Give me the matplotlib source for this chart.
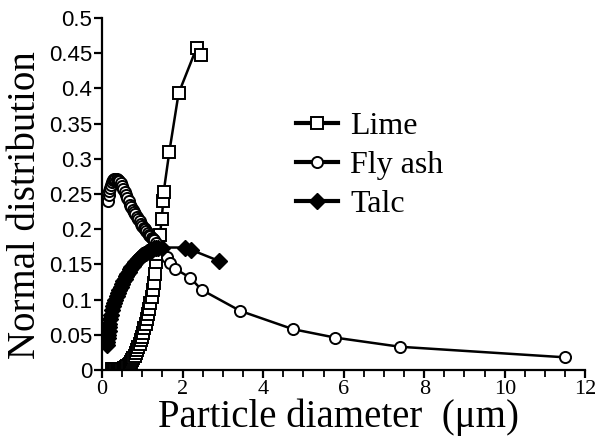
import matplotlib
matplotlib.use("Agg")
import matplotlib.pyplot as plt
from matplotlib.ticker import MultipleLocator

lime_x = [0.24, 0.27, 0.3, 0.33, 0.36, 0.39, 0.42, 0.45, 0.48, 0.51, 0.54, 0.57, 0.6,
          0.63, 0.66, 0.69, 0.72, 0.75, 0.78, 0.81, 0.84, 0.87, 0.9, 0.93, 0.96, 0.99,
          1.02, 1.05, 1.08, 1.11, 1.14, 1.17, 1.2, 1.23, 1.26, 1.29, 1.32, 1.34, 1.37,
          1.4, 1.44, 1.48, 1.52, 1.53, 1.67, 1.9, 2.35, 2.45]
lime_y = [0.002, 0.001, 0.001, 0.001, 0.001, 0.001, 0.001, 0.001, 0.002, 0.002, 0.003,
          0.003, 0.004, 0.005, 0.007, 0.009, 0.011, 0.014, 0.017, 0.02, 0.024, 0.028,
          0.032, 0.037, 0.042, 0.047, 0.053, 0.059, 0.065, 0.072, 0.079, 0.087, 0.095,
          0.104, 0.113, 0.124, 0.136, 0.153, 0.165, 0.178, 0.192, 0.215, 0.24, 0.253,
          0.31, 0.393, 0.458, 0.448]

ash_x = [0.15, 0.16, 0.18, 0.2, 0.22, 0.25, 0.28, 0.3, 0.33, 0.36, 0.4, 0.43, 0.46, 0.5,
         0.53, 0.56, 0.6, 0.63, 0.66, 0.7, 0.73, 0.76, 0.8, 0.83, 0.86, 0.9, 0.93, 0.96,
         1.0, 1.03, 1.06, 1.1, 1.13, 1.16, 1.2, 1.23, 1.26, 1.3, 1.35, 1.4, 1.6, 1.69,
         1.81, 2.19, 2.47, 3.43, 4.74, 5.79, 7.4, 11.5]
ash_y = [0.24, 0.248, 0.254, 0.259, 0.263, 0.267, 0.27, 0.271, 0.272, 0.272, 0.27,
         0.268, 0.265, 0.261, 0.257, 0.253, 0.248, 0.244, 0.24, 0.235, 0.231, 0.228,
         0.224, 0.221, 0.218, 0.214, 0.211, 0.208, 0.205, 0.202, 0.2, 0.197, 0.195,
         0.192, 0.19, 0.188, 0.186, 0.184, 0.18, 0.174, 0.16, 0.152, 0.144, 0.131,
         0.114, 0.084, 0.058, 0.046, 0.033, 0.018]

talc_x = [0.12, 0.13, 0.14, 0.15, 0.16, 0.17, 0.18, 0.2, 0.22, 0.25, 0.28, 0.3, 0.33,
          0.36, 0.4, 0.43, 0.46, 0.5, 0.53, 0.56, 0.6, 0.63, 0.66, 0.7, 0.73, 0.76, 0.8,
          0.83, 0.86, 0.9, 0.93, 0.96, 1.0, 1.04, 1.08, 1.12, 1.16, 1.2, 1.25, 1.3, 1.35,
          1.4, 1.5, 2.06, 2.2, 2.9]
talc_y = [0.035, 0.04, 0.045, 0.05, 0.056, 0.061, 0.066, 0.072, 0.078, 0.085, 0.091,
          0.095, 0.1, 0.105, 0.11, 0.114, 0.118, 0.122, 0.126, 0.13, 0.133, 0.136, 0.139,
          0.143, 0.146, 0.148, 0.151, 0.153, 0.155, 0.158, 0.16, 0.162, 0.163, 0.165,
          0.166, 0.167, 0.169, 0.17, 0.171, 0.173, 0.174, 0.174, 0.174, 0.174, 0.171,
          0.155]

serif = "Liberation Serif"
sans = "Liberation Sans"

fig = plt.figure(figsize=(6.04, 4.41), dpi=100)
ax = fig.add_axes([0.169, 0.161, 0.8, 0.798])

ax.plot(lime_x, lime_y, color="black", lw=1.8, marker="s", ms=8,
        mfc="white", mec="black", mew=1.4, label="Lime")
ax.plot(ash_x, ash_y, color="black", lw=1.8, marker="o", ms=8,
        mfc="white", mec="black", mew=1.4, label="Fly ash")
ax.plot(talc_x, talc_y, color="black", lw=1.8, marker="D", ms=8,
        mfc="black", mec="black", label="Talc")

ax.set_xlim(0, 12)
ax.set_ylim(0, 0.5)
ax.xaxis.set_major_locator(MultipleLocator(2))
ax.xaxis.set_minor_locator(MultipleLocator(0.5))

for s in ["top", "right"]:
    ax.spines[s].set_visible(False)
for s in ["left", "bottom"]:
    ax.spines[s].set_linewidth(1.6)

ax.tick_params(axis="both", which="major", direction="out", length=6, width=1.6)
ax.tick_params(axis="x", which="minor", direction="out", length=5, width=1.3)
ax.set_yticks([0, 0.05, 0.1, 0.15, 0.2, 0.25, 0.3, 0.35, 0.4, 0.45, 0.5])
ax.set_yticklabels(["0", "0.05", "0.1", "0.15", "0.2", "0.25", "0.3", "0.35", "0.4",
                    "0.45", "0.5"], fontfamily=sans, fontsize=16)
for lab in ax.get_xticklabels():
    lab.set_fontfamily(serif)
    lab.set_fontsize(16)
ax.tick_params(axis="x", pad=1)
ax.tick_params(axis="y", pad=1)

ax.set_xlabel("Particle diameter  (\u03bcm)", fontfamily=serif, fontsize=28, labelpad=0)
ax.xaxis.set_label_coords(0.489, -0.08)
ax.set_ylabel("Normal distribution", fontfamily=serif, fontsize=28, labelpad=2)
ax.yaxis.set_label_coords(-0.12, 0.47)

leg = ax.legend(loc="upper left", bbox_to_anchor=(0.375, 0.77), frameon=False,
                prop={"family": serif, "size": 23}, handlelength=1.3,
                handletextpad=0.4, labelspacing=0.3, borderaxespad=0)
for h in leg.legend_handles:
    h.set_linewidth(3)

fig.savefig("out.png", dpi=100)
